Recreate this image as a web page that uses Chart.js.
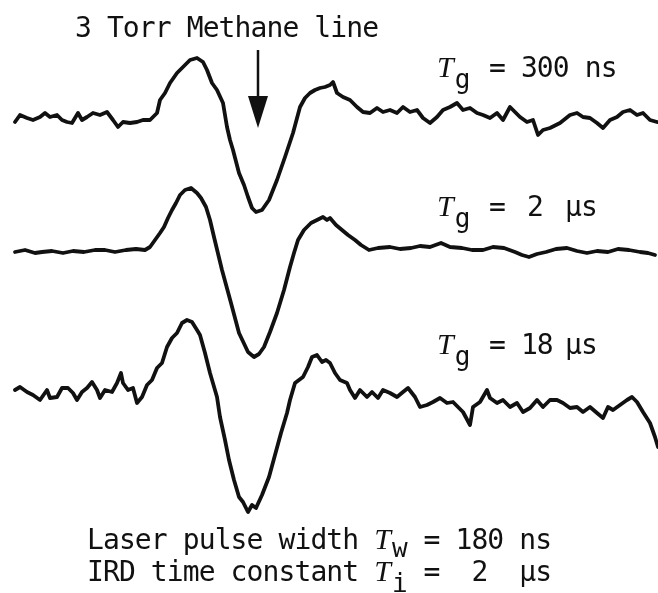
<!DOCTYPE html>
<html>
<head>
  <meta charset="UTF-8">
  <title>3 Torr Methane line</title>
  <script src="https://cdn.jsdelivr.net/npm/chart.js"></script>
  <style>
    body { margin: 0; background: #fff; }
    .wrap { position: relative; width: 658px; height: 593px; }
    .wrap canvas { position: absolute; left: 0; top: 0; }
    .lab { position: absolute; font-family: "DejaVu Sans Mono", monospace; font-size: 28px; line-height: 1;
           letter-spacing: -0.9px; white-space: pre; color: #111; }
    .tt { font-family: "Liberation Serif", serif; font-style: italic; font-size: 30px; letter-spacing: 0; }
    .sb { position: relative; top: 11px; font-size: 26px; letter-spacing: 0; margin-left: 1px; }
  </style>
</head>
<body>
  <div class="wrap">
    <canvas id="traces" width="658" height="593"></canvas>
    <div class="lab" style="left:75px; top:14px">3 Torr Methane line</div>

    <div class="lab" style="left:437px; top:52px"><span class="tt">T</span><span class="sb">g</span></div>
    <div class="lab" style="left:489px; top:54px">= 300 ns</div>

    <div class="lab" style="left:437px; top:191px"><span class="tt">T</span><span class="sb">g</span></div>
    <div class="lab" style="left:489px; top:193px">=</div>
    <div class="lab" style="left:527px; top:193px">2</div>
    <div class="lab" style="left:565px; top:193px">µs</div>

    <div class="lab" style="left:437px; top:329px"><span class="tt">T</span><span class="sb">g</span></div>
    <div class="lab" style="left:489px; top:331px">= 18</div>
    <div class="lab" style="left:565px; top:331px">µs</div>

    <div class="lab" style="left:87px; top:524px">Laser pulse width <span class="tt">T</span><span class="sb" style="top:8px">w</span> = 180 ns</div>
    <div class="lab" style="left:87px; top:556px">IRD time constant <span class="tt">T</span><span class="sb">i</span> =  2  µs</div>
  </div>
  <script>
    // trace offsets on the page (vertical stacking)
    const baselines = [473, 343, 203];

    // Tg = 300 ns
    const pos300 = [15, 20, 27, 33, 40, 45, 50, 57, 62, 67, 72, 78, 82, 87, 93, 100, 107, 113, 118, 123,
      130, 137, 143, 150, 157, 160, 165, 170, 177, 183, 190, 197, 203, 207, 212, 217, 223, 227, 230, 233,
      239, 244, 248, 252, 256, 262, 269, 277, 285, 293, 300, 305, 310, 315, 320, 325, 330, 333, 337, 343,
      350, 357, 363, 370, 377, 383, 390, 397, 403, 410, 417, 423, 430, 437, 443, 450, 457, 463, 470, 477,
      483, 490, 497, 503, 510, 515, 520, 527, 533, 538, 543, 550, 560, 570, 577, 583, 590, 597, 603, 610,
      617, 623, 630, 637, 643, 650, 657];
    const sig300 = [-2, 5, 2, 0, 3, 7, 3, 5, 0, -2, -3, 7, 0, 3, 7, 5, 8, 0, -7, -2,
      -3, -2, 0, 0, 7, 20, 27, 37, 47, 53, 60, 62, 58, 50, 37, 30, 17, -7, -20, -30,
      -53, -65, -77, -88, -92, -90, -80, -60, -37, -13, 13, 22, 27, 30, 32, 33, 35, 38, 27, 23,
      20, 13, 8, 7, 12, 8, 10, 7, 13, 8, 10, 2, -3, 3, 10, 13, 17, 10, 12, 7,
      5, 2, 7, 0, 13, 8, 3, -2, 0, -15, -10, -8, -3, 5, 7, 3, 2, -3, -8, 0,
      3, 8, 10, 5, 7, 0, -2];

    // Tg = 2 us
    const pos2 = [15, 25, 35, 42, 52, 63, 73, 84, 95, 105, 115, 126, 136, 145, 150, 155, 160, 164, 168, 172,
      176, 180, 185, 191, 197, 201, 206, 210, 214, 222, 231, 239, 248, 254, 259, 264, 270, 277, 284, 290,
      294, 298, 304, 311, 317, 323, 327, 330, 336, 342, 348, 355, 361, 369, 378, 390, 400, 411, 420, 430,
      441, 450, 462, 472, 483, 493, 504, 515, 522, 529, 537, 546, 556, 567, 577, 587, 597, 608, 618, 629,
      640, 648, 655];
    const sig2 = [-2, 0, -3, -2, -1, -3, -1, -2, 0, 0, -2, 0, 1, 0, 3, 10, 17, 23, 32, 40,
      47, 55, 60, 62, 57, 52, 43, 30, 13, -20, -53, -83, -102, -107, -104, -97, -82, -63, -40, -17,
      -3, 10, 20, 27, 30, 33, 30, 32, 25, 20, 15, 10, 5, 0, 2, 3, 1, 2, 4, 3,
      7, 3, 2, 0, 0, 3, 2, -2, -5, -7, -4, -2, 1, 2, -1, -3, -1, -2, 1, 0,
      -2, -3, -5];

    // Tg = 18 us
    const pos18 = [15, 20, 27, 33, 40, 47, 50, 57, 62, 68, 73, 77, 82, 87, 92, 97, 100, 105, 112, 117,
      121, 123, 128, 133, 137, 142, 147, 152, 157, 162, 167, 172, 177, 182, 187, 192, 197, 200, 205, 210,
      217, 220, 225, 229, 234, 239, 243, 248, 252, 256, 262, 269, 275, 281, 287, 290, 295, 299, 303, 308,
      312, 317, 322, 326, 330, 335, 340, 347, 350, 355, 360, 367, 372, 378, 383, 390, 397, 403, 408, 415,
      420, 427, 433, 440, 447, 453, 458, 463, 470, 473, 480, 487, 490, 497, 503, 510, 517, 523, 530, 537,
      543, 550, 557, 563, 570, 577, 583, 590, 597, 603, 608, 613, 620, 627, 632, 637, 643, 650, 655, 658];
    const sig18 = [0, 3, -2, -5, -10, 0, -8, -7, 2, 2, -3, -10, -2, 2, 8, 0, -8, 0, -2, 7,
      17, 7, 0, 2, -13, -7, 5, 10, 22, 27, 43, 52, 57, 67, 70, 68, 60, 55, 37, 17,
      -7, -27, -50, -70, -90, -107, -112, -122, -115, -118, -105, -87, -65, -43, -23, -10, 7, 10, 13, 23,
      33, 35, 28, 30, 27, 17, 10, 7, 0, -8, 0, -7, -2, -8, 0, -3, -7, -2, 2, -7,
      -17, -15, -12, -8, -13, -12, -17, -22, -35, -17, -12, 0, -8, -13, -10, -17, -13, -22, -18, -10,
      -17, -10, -10, -13, -18, -17, -22, -17, -23, -28, -17, -20, -15, -10, -7, -12, -22, -33, -47, -57];

    // arrow marking the methane line: x, shaft top, tip
    const arrowMark = [258, 543, 465];

    function toPoints(pos, sig, base) {
      return pos.map((x, i) => ({ x: x, y: base + sig[i] }));
    }

    const arrowPlugin = {
      id: 'arrow',
      afterDatasetsDraw(chart) {
        const { ctx, scales } = chart;
        const x = scales.x.getPixelForValue(arrowMark[0]);
        const top = scales.y.getPixelForValue(arrowMark[1]);
        const tip = scales.y.getPixelForValue(arrowMark[2]);
        ctx.save();
        ctx.strokeStyle = '#111';
        ctx.fillStyle = '#111';
        ctx.lineWidth = 2.5;
        ctx.beginPath();
        ctx.moveTo(x, top);
        ctx.lineTo(x, tip - 20);
        ctx.stroke();
        ctx.beginPath();
        ctx.moveTo(x - 10, tip - 32);
        ctx.lineTo(x + 10, tip - 32);
        ctx.lineTo(x, tip);
        ctx.closePath();
        ctx.fill();
        ctx.restore();
      }
    };

    const lineStyle = { borderColor: '#111', borderWidth: 3.8, pointRadius: 0, tension: 0, fill: false,
      borderJoinStyle: 'round', borderCapStyle: 'round' };

    new Chart(document.getElementById('traces'), {
      type: 'line',
      data: {
        datasets: [
          Object.assign({ label: 'Tg = 300 ns', data: toPoints(pos300, sig300, baselines[0]) }, lineStyle),
          Object.assign({ label: 'Tg = 2 µs', data: toPoints(pos2, sig2, baselines[1]) }, lineStyle),
          Object.assign({ label: 'Tg = 18 µs', data: toPoints(pos18, sig18, baselines[2]) }, lineStyle)
        ]
      },
      options: {
        responsive: false,
        animation: false,
        layout: { padding: 0 },
        plugins: { legend: { display: false }, tooltip: { enabled: false } },
        scales: {
          x: { type: 'linear', min: 0, max: 658, display: false },
          y: { type: 'linear', min: 0, max: 593, display: false }
        }
      },
      plugins: [arrowPlugin]
    });
  </script>
</body>
</html>
